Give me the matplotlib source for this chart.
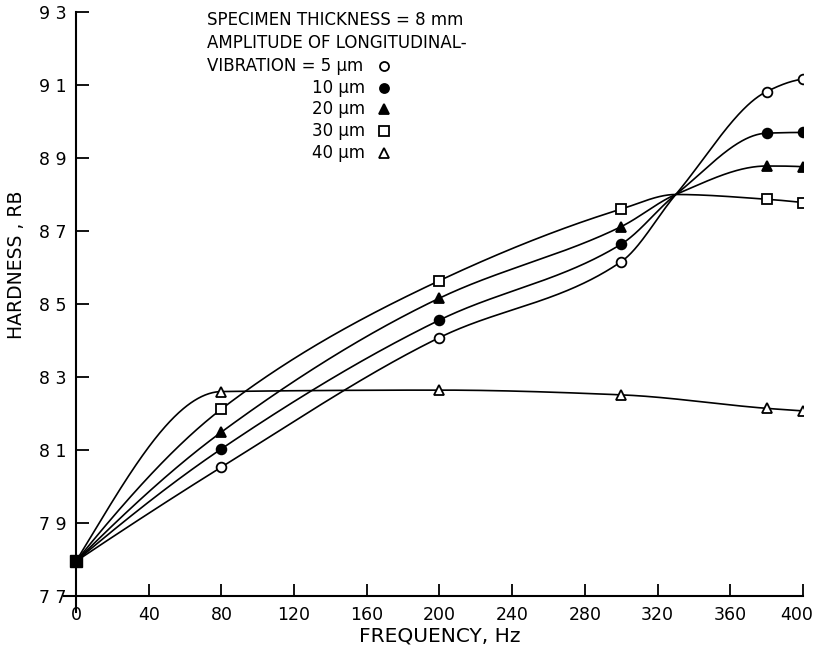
import matplotlib
matplotlib.use('Agg')
import matplotlib.pyplot as plt
import matplotlib.transforms as mtransforms
import numpy as np

# values
freq = [0, 80, 200, 300, 380, 400]
h5 = [77.95, 80.53, 84.08, 86.16, 90.82, 91.16]
h10 = [77.95, 81.03, 84.56, 86.64, 89.68, 89.70]
h20 = [77.95, 81.49, 85.16, 87.12, 88.78, 88.76]
h30 = [77.95, 82.12, 85.64, 87.60, 87.87, 87.78]
h40 = [77.95, 82.60, 82.64, 82.51, 82.14, 82.07]
amplitudes = ['5', '10', '20', '30', '40']
xticks = [0, 40, 80, 120, 160, 200, 240, 280, 320, 360, 400]
yticks = [77, 79, 81, 83, 85, 87, 89, 91, 93]
# the 5-30 um curves all pass through one point
cross_freq = 330
cross_hard = 88.0


def pchip(x, y, xs):
    # monotone cubic (Fritsch-Carlson) for the smooth hand drawn curves
    x = np.asarray(x, float)
    y = np.asarray(y, float)
    h = np.diff(x)
    d = np.diff(y) / h
    n = len(x)
    m = np.zeros(n)
    for k in range(1, n - 1):
        if d[k - 1] * d[k] <= 0:
            m[k] = 0.0
        else:
            w1 = 2 * h[k] + h[k - 1]
            w2 = h[k] + 2 * h[k - 1]
            m[k] = (w1 + w2) / (w1 / d[k - 1] + w2 / d[k])
    def endslope(h0, h1, d0, d1):
        s = ((2 * h0 + h1) * d0 - h0 * d1) / (h0 + h1)
        if np.sign(s) != np.sign(d0):
            s = 0.0
        elif np.sign(d0) != np.sign(d1) and abs(s) > 3 * abs(d0):
            s = 3 * d0
        return s
    m[0] = endslope(h[0], h[1], d[0], d[1])
    m[-1] = endslope(h[-1], h[-2], d[-1], d[-2])
    idx = np.clip(np.searchsorted(x, xs) - 1, 0, n - 2)
    t = (xs - x[idx]) / h[idx]
    h00 = 2 * t**3 - 3 * t**2 + 1
    h10 = t**3 - 2 * t**2 + t
    h01 = -2 * t**3 + 3 * t**2
    h11 = t**3 - t**2
    return (h00 * y[idx] + h10 * h[idx] * m[idx] + h01 * y[idx + 1]
            + h11 * h[idx] * m[idx + 1])


fig = plt.figure(figsize=(8.17, 6.52), dpi=100)
ax = fig.add_axes([64 / 817, 1 - 612 / 652, (803 - 64) / 817, (612 - 12) / 652])

series = [h5, h10, h20, h30, h40]
styles = [('o', 'white'), ('o', 'black'), ('^', 'black'), ('s', 'white'), ('^', 'white')]
xs = np.linspace(0, 400, 800)
for i, (vals, (mk, fc)) in enumerate(zip(series, styles)):
    kx = list(freq)
    ky = list(vals)
    if i < 4:
        kx.insert(4, cross_freq)
        ky.insert(4, cross_hard)
    ax.plot(xs, pchip(kx, ky, xs), color='black', lw=1.2, zorder=2)
    ax.plot(freq[1:], vals[1:], linestyle='none', marker=mk, ms=7,
            mfc=fc, mec='black', mew=1.3, zorder=3)
ax.plot(freq[0], h5[0], linestyle='none', marker='s', ms=8, color='black', zorder=4)

ax.set_xlim(-6.6, 400)
ax.set_ylim(76.56, 93)
ax.spines['top'].set_visible(False)
ax.spines['right'].set_visible(False)
ax.spines['left'].set_position(('data', 0))
ax.spines['bottom'].set_position(('data', 77))
ax.spines['left'].set_linewidth(1.5)
ax.spines['bottom'].set_linewidth(1.5)
ax.set_xticks(xticks)
ax.set_yticks(yticks)
ax.set_yticklabels([' '.join(str(v)) for v in yticks])
ax.tick_params(axis='both', direction='in', length=9, width=1.3, labelsize=12.5)
ax.tick_params(axis='x', pad=7)
ax.tick_params(axis='y', pad=7)

# pull the last x label in a little, as in the original
last = ax.xaxis.get_major_ticks()[-1].label1
last.set_transform(last.get_transform()
                   + mtransforms.ScaledTranslation(-6 / 100, 0, fig.dpi_scale_trans))

fig.text(17 / 817, 1 - 265 / 652, 'HARDNESS , RB', rotation=90,
         ha='center', va='center', fontsize=13.5)
fig.text(440 / 817, 1 - 636 / 652, 'FREQUENCY, Hz', ha='center', va='center',
         fontsize=14.5)

# legend block in the top left
fs = 12
fig.text(207 / 817, 1 - 20 / 652, 'SPECIMEN THICKNESS = 8 mm', va='center', fontsize=fs)
fig.text(207 / 817, 1 - 43 / 652, 'AMPLITUDE OF LONGITUDINAL-', va='center', fontsize=fs)
rows_y = [66, 88, 109, 131, 153]
for i, (amp, (mk, fc)) in enumerate(zip(amplitudes, styles)):
    yy = 1 - rows_y[i] / 652
    if i == 0:
        label = 'VIBRATION = ' + amp + ' µm'
        fig.text(207 / 817, yy, label, va='center', ha='left', fontsize=fs)
    else:
        fig.text(365 / 817, yy, amp + ' µm', va='center', ha='right', fontsize=fs)
    ax.plot([384 / 817], [yy], transform=fig.transFigure, marker=mk, ms=6.5,
            mfc=fc, mec='black', mew=1.3, linestyle='none', clip_on=False)

fig.savefig('out.png', dpi=100)
